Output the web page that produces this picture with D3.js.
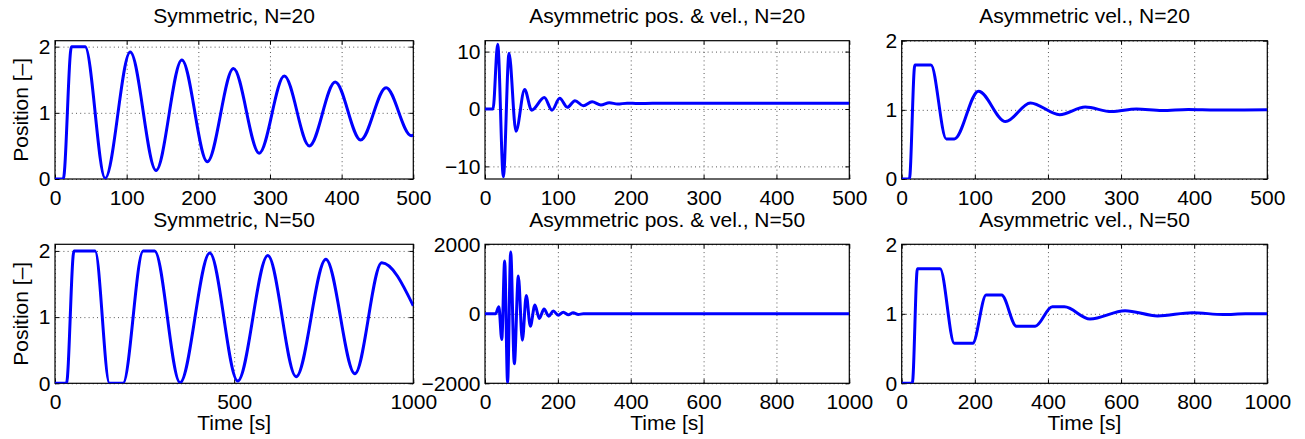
<!DOCTYPE html>
<html>
<head>
<meta charset="utf-8">
<script src="https://cdn.jsdelivr.net/npm/d3@7"></script>
<style>
  body { margin: 0; background: #fff; }
  svg text { font-family: "Liberation Sans", Arial, Helvetica, sans-serif; fill: #000; }
</style>
</head>
<body>
<svg id="chart" width="1305" height="439"></svg>
<script>
// Samples: extrema and corners of the plateaus.
// time [s] / position [-]

// Symmetric, N=20
const sym20_t = [0, 11.5, 23, 42, 70, 105, 141, 177, 212.6, 249, 285, 320, 355, 391, 426.5, 462, 497, 500];
const sym20_y = [0, 0, 2.0, 2.0, 0.01, 1.92, 0.13, 1.80, 0.26, 1.67, 0.39, 1.555, 0.50, 1.465, 0.59, 1.38, 0.655, 0.66];

// Asymmetric pos. & vel., N=20
const asym20_t = [0, 11, 17.4, 25.2, 33, 42.5, 54.4, 64, 81.4, 92, 102.5, 113, 123.5, 135, 147, 159, 170.6, 182, 195, 210, 230, 500];
const asym20_y = [0, 0, 11.3, -11.8, 9.7, -3.9, 3.4, -0.2, 2.0, -0.2, 1.85, 0.3, 1.45, 0.55, 1.25, 0.7, 1.1, 0.85, 1.02, 0.95, 1.0, 1.0];

// Asymmetric vel., N=20
const vel20_t = [0, 10.5, 18, 40, 61, 72, 105, 142, 176, 216, 251, 287, 321, 356, 392, 430, 500];
const vel20_y = [0, 0, 1.65, 1.65, 0.58, 0.58, 1.27, 0.83, 1.10, 0.93, 1.04, 0.975, 1.012, 0.99, 1.005, 0.998, 1.0];

// Symmetric, N=50
const sym50_t = [0, 32, 53, 112, 152, 190, 246, 278, 349, 432, 510, 594, 673, 756, 837, 912, 1000];
const sym50_y = [0, 0, 2, 2, 0, 0, 2, 2, 0.01, 1.97, 0.035, 1.93, 0.10, 1.875, 0.145, 1.82, 1.17];

// Asymmetric pos. & vel., N=50
const asym50_t = [0, 29, 38, 46, 54, 62, 70.5, 80.5, 91.5, 102.5, 113.4, 124.4, 137, 149, 162, 175, 187.6, 201, 215, 229, 242, 256, 270, 1000];
const asym50_y = [0, 0, 200, -740, 1520, -1980, 1780, -1440, 1090, -760, 530, -357, 250, -135, 135, -67, 77, -39, 48, -29, 29, -19, 0, 1];

// Asymmetric vel., N=50
const vel50_t = [0, 29, 43, 105, 144, 194, 231, 273, 314, 365, 412, 445, 515, 611, 700, 795, 880, 940, 1000];
const vel50_y = [0, 0, 1.65, 1.65, 0.575, 0.575, 1.27, 1.27, 0.82, 0.82, 1.10, 1.10, 0.925, 1.045, 0.97, 1.015, 0.99, 1.0, 1.0];

// tick values
const ticks_x500 = [0, 100, 200, 300, 400, 500];
const ticks_x1000 = [0, 200, 400, 600, 800, 1000];
const ticks_x1000_sym = [0, 500, 1000];
const ticks_y2 = [0, 1, 2];
const ticks_y10 = [-10, 0, 10];
const ticks_y2000 = [-2000, 0, 2000];

const titles = ["Symmetric, N=20", "Asymmetric pos. & vel., N=20", "Asymmetric vel., N=20",
                "Symmetric, N=50", "Asymmetric pos. & vel., N=50", "Asymmetric vel., N=50"];

// axes boxes (pixels)
const col_left = [55, 485, 901.7];
const col_right = [413.3, 849.3, 1267.3];
const row_top = [40.7, 244.3];
const row_bottom = [179, 383.3];

const panels = [
    {row: 0, col: 0, t: sym20_t, y: sym20_y, xdom: [0, 500], ydom: [0, 2.09], xt: ticks_x500, yt: ticks_y2, ylabel: true},
    {row: 0, col: 1, t: asym20_t, y: asym20_y, xdom: [0, 500], ydom: [-12.2, 11.9], xt: ticks_x500, yt: ticks_y10},
    {row: 0, col: 2, t: vel20_t, y: vel20_y, xdom: [0, 500], ydom: [0, 2], xt: ticks_x500, yt: ticks_y2},
    {row: 1, col: 0, t: sym50_t, y: sym50_y, xdom: [0, 1000], ydom: [0, 2.1], xt: ticks_x1000_sym, yt: ticks_y2, ylabel: true, xlabel: true},
    {row: 1, col: 1, t: asym50_t, y: asym50_y, xdom: [0, 1000], ydom: [-2000, 2000], xt: ticks_x1000, yt: ticks_y2000, xlabel: true},
    {row: 1, col: 2, t: vel50_t, y: vel50_y, xdom: [0, 1000], ydom: [0, 2], xt: ticks_x1000, yt: ticks_y2, xlabel: true}
];

const svg = d3.select('#chart');
const FONT = 21;

function style_axis(g){
    g.attr('font-family', null).attr('font-size', null);
    g.select('.domain').remove();
    g.selectAll('text').style('font-size', FONT + 'px');
    g.selectAll('line').attr('stroke', '#000').attr('stroke-width', 1);
}

function draw_panel(p, i){
    let x0 = col_left[p.col], x1 = col_right[p.col];
    let y0 = row_top[p.row], y1 = row_bottom[p.row];
    let w = x1 - x0, h = y1 - y0;

    let sx = d3.scaleLinear().domain(p.xdom).range([x0, x1]);
    let sy = d3.scaleLinear().domain(p.ydom).range([y1, y0]);

    let g = svg.append('g');

    // dotted grid
    let gx = g.append('g').attr('transform', `translate(0,${y1})`)
              .call(d3.axisBottom(sx).tickValues(p.xt).tickSize(-h).tickFormat(''));
    let gy = g.append('g').attr('transform', `translate(${x0},0)`)
              .call(d3.axisLeft(sy).tickValues(p.yt).tickSize(-w).tickFormat(''));
    [gx, gy].forEach(a => {
        a.select('.domain').remove();
        a.selectAll('line').attr('stroke', '#444').attr('stroke-width', 0.9)
         .attr('stroke-dasharray', '1,3.2');
    });

    // tick marks + labels (ticks point inward like matlab)
    g.append('g').attr('transform', `translate(0,${y1})`)
     .call(d3.axisBottom(sx).tickValues(p.xt).tickSize(-4).tickSizeOuter(0).tickPadding(10.6).tickFormat(d3.format('d')))
     .call(style_axis);
    g.append('g').attr('transform', `translate(0,${y0})`)
     .call(d3.axisTop(sx).tickValues(p.xt).tickSize(-4).tickSizeOuter(0).tickFormat(''))
     .call(style_axis);
    g.append('g').attr('transform', `translate(${x0},0)`)
     .call(d3.axisLeft(sy).tickValues(p.yt).tickSize(-4).tickSizeOuter(0).tickPadding(4.5).tickFormat(d3.format('d')))
     .call(style_axis);
    g.append('g').attr('transform', `translate(${x1},0)`)
     .call(d3.axisRight(sy).tickValues(p.yt).tickSize(-4).tickSizeOuter(0).tickFormat(''))
     .call(style_axis);

    // box
    g.append('rect').attr('x', x0).attr('y', y0).attr('width', w).attr('height', h)
     .attr('fill', 'none').attr('stroke', '#000').attr('stroke-width', 1.2);

    // data line, clipped to the axes
    let clip_id = 'clip' + i;
    svg.append('clipPath').attr('id', clip_id)
       .append('rect').attr('x', x0).attr('y', y0).attr('width', w).attr('height', h);

    let pts = p.t.map((t, k) => [t, p.y[k]]);
    let line = d3.line().x(d => sx(d[0])).y(d => sy(d[1])).curve(d3.curveMonotoneX);

    g.append('path').datum(pts)
     .attr('clip-path', `url(#${clip_id})`)
     .attr('d', line)
     .attr('fill', 'none').attr('stroke', '#0000ff').attr('stroke-width', 3)
     .attr('stroke-linejoin', 'round');

    // title
    g.append('text').attr('x', (x0 + x1) / 2).attr('y', y0 - 17.7)
     .attr('text-anchor', 'middle').style('font-size', FONT + 'px').text(titles[i]);

    if (p.ylabel){
        g.append('text').attr('transform', `translate(28,${(y0 + y1) / 2}) rotate(-90)`)
         .attr('text-anchor', 'middle').style('font-size', FONT + 'px').text('Position [\u2013]');
    }
    if (p.xlabel){
        g.append('text').attr('x', (x0 + x1) / 2).attr('y', y1 + 46.7)
         .attr('text-anchor', 'middle').style('font-size', FONT + 'px').text('Time [s]');
    }
}

panels.forEach(draw_panel);
</script>
</body>
</html>
